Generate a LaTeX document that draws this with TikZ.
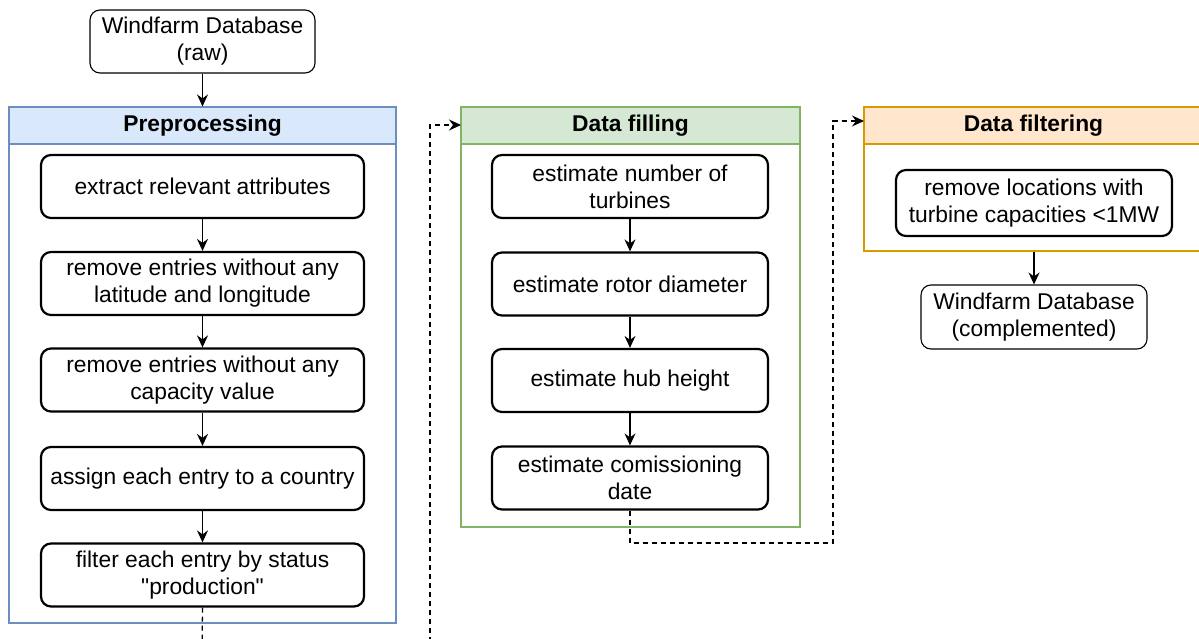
\documentclass[tikz,border=0pt]{standalone}
\usepackage{fontspec}
\setmainfont{Liberation Sans}[Ligatures=TeXOff]
\usetikzlibrary{arrows.meta}
\definecolor{blueF}{HTML}{DAE8FC}
\definecolor{blueB}{HTML}{6C8EBF}
\definecolor{greenF}{HTML}{D5E8D4}
\definecolor{greenB}{HTML}{82B366}
\definecolor{orangeF}{HTML}{FFE6CC}
\definecolor{orangeB}{HTML}{D79B00}
\tikzset{
  stepbox/.style={draw=black, line width=2.2pt, rounded corners=10pt, align=center, inner sep=0pt, font=\fontsize{22.8}{27}\selectfont},
  dbbox/.style={draw=black, line width=1.1pt, rounded corners=10pt, align=center, inner sep=0pt, font=\fontsize{22.8}{27}\selectfont},
  container/.style={line width=1.1pt, inner sep=0pt},
  header/.style={line width=1.1pt, inner sep=0pt, anchor=north, font=\bfseries\fontsize{22.8}{27}\selectfont},
  arr/.style={line width=1.3pt, -{Stealth[length=12pt,width=11pt,inset=4pt]}},
  dline/.style={line width=1.3pt, dash pattern=on 5pt off 4pt},
  darr/.style={dline, -{Stealth[length=12pt,width=11pt,inset=4pt]}}
}
\begin{document}
\begin{tikzpicture}[x=1pt,y=-1pt]
\useasboundingbox (0,0) rectangle (1199,639);
\clip (0,0) rectangle (1199,639);
\fill[white] (0,0) rectangle (1199,639);

% top database
\node[dbbox, minimum width=225pt, minimum height=63pt] (raw) at (202.5,41.5) {Windfarm Database\\(raw)};

% Preprocessing container
\node[container, draw=blueB, minimum width=387pt, minimum height=516pt] (pre) at (202.5,365) {};
\node[header, fill=blueF, draw=blueB, minimum width=387pt, minimum height=37pt] (preh) at (pre.north) {Preprocessing};

\node[stepbox, minimum width=323pt, minimum height=63pt] (p1) at (202.5,186.5) {extract relevant attributes};
\node[stepbox, minimum width=323pt, minimum height=63pt] (p2) at (202.5,283.5) {remove entries without any\\latitude and longitude};
\node[stepbox, minimum width=323pt, minimum height=63pt] (p3) at (202.5,380) {remove entries without any\\capacity value};
\node[stepbox, minimum width=323pt, minimum height=63pt] (p4) at (202.5,478.5) {assign each entry to a country};
\node[stepbox, minimum width=323pt, minimum height=63pt] (p5) at (202.5,575) {filter each entry by status\\"production"};

\draw[arr] (raw.south) -- (preh.north);
\draw[arr] (p1) -- (p2);
\draw[arr] (p2) -- (p3);
\draw[arr] (p3) -- (p4);
\draw[arr] (p4) -- (p5);

% Data filling container
\node[container, draw=greenB, minimum width=339pt, minimum height=420pt] (fill) at (630.5,317) {};
\node[header, fill=greenF, draw=greenB, minimum width=339pt, minimum height=37pt] (fillh) at (fill.north) {Data filling};

\node[stepbox, minimum width=276pt, minimum height=63pt] (f1) at (630,186.5) {estimate number of\\turbines};
\node[stepbox, minimum width=276pt, minimum height=63pt] (f2) at (630,284) {estimate rotor diameter};
\node[stepbox, minimum width=276pt, minimum height=63pt] (f3) at (630,380.5) {estimate hub height};
\node[stepbox, minimum width=276pt, minimum height=63pt] (f4) at (630,478) {estimate comissioning\\date};

\draw[arr] (f1) -- (f2);
\draw[arr] (f2) -- (f3);
\draw[arr] (f3) -- (f4);

% Data filtering container
\node[container, draw=orangeB, minimum width=339pt, minimum height=144pt] (filt) at (1033.5,179) {};
\node[header, fill=orangeF, draw=orangeB, minimum width=339pt, minimum height=37pt] (filth) at (filt.north) {Data filtering};

\node[stepbox, minimum width=276pt, minimum height=66pt] (r1) at (1034,203) {remove locations with\\turbine capacities {<}1MW};

\node[dbbox, minimum width=226pt, minimum height=64pt] (comp) at (1034,317) {Windfarm Database\\(complemented)};
\draw[arr] (filt.south -| comp.north) -- (comp.north);

% dashed connectors
\coordinate (c1) at (202,660);
\coordinate (c2) at (430,660);
\coordinate (fillin) at (461,125);
\coordinate (filtin) at (864,121);
\coordinate (bend) at (833,543);
\draw[dline] (p5.south) -- (c1);
\draw[darr] (c2) |- (fillin);
\draw[darr] (f4.south) |- (bend) |- (filtin);
\end{tikzpicture}
\end{document}
